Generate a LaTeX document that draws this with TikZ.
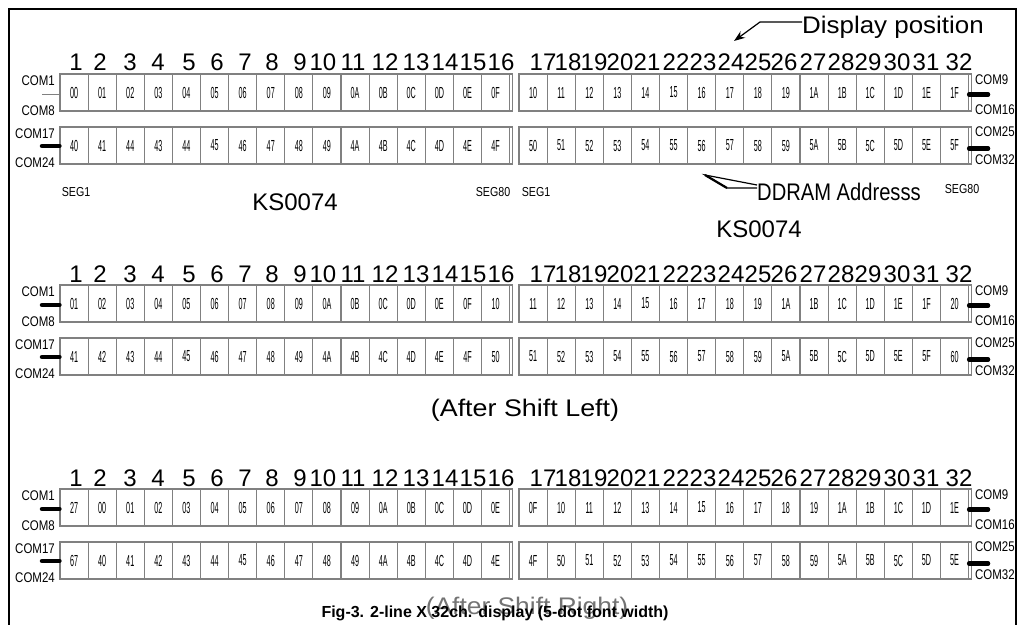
\documentclass[tikz,border=0pt]{standalone}
\usepackage{fontspec}
\setmainfont{Liberation Sans}
\usetikzlibrary{arrows.meta}
\newcommand\ctx[1]{\scalebox{0.45}[1]{\fontsize{16}{16}\selectfont #1}}
\newcommand\cm[1]{\scalebox{0.82}[1]{#1}}
\newcommand\cellrow[4]{%
  \foreach \lab [count=\i] in {#4} {\node[cellbox] (#1-\i) at ({#2+(\i-0.5)*28.1},{#3+18.5}) {\ctx{\lab}};}
  \draw[black!50, line width=1.1pt] ({#2},{#3}) -- ({#2+16*28.1+2.5},{#3}) -- ++(0,37) -- ({#2},{#3+37});
}
\newcommand\numrow[2]{%
  \foreach \n/\xx in {1/76,2/100,3/130,4/158,5/189,6/217,7/245,8/272,9/300,10/323,11/353,12/385,13/416,14/445,15/473,16/501,17/543,18/568,19/594,20/620,21/647,22/676,23/703,24/731,25/758,26/784,27/813,28/841,29/868,30/897,31/926,32/959}
    {\node[numtxt] (#1-n\n) at (\xx,#2) {\n};}
}
% id, topA, topB, leftA-style
\newcommand\comlabels[4]{%
  \node[comtxt, anchor=east] (#1-c1) at (55,#2+6.5) {\cm{COM1}};
  \node[comtxt, anchor=east] (#1-c8) at (55,#2+36.5) {\cm{COM8}};
  \node[comtxt, anchor=east] (#1-c17) at (55,#3+7) {\cm{COM17}};
  \node[comtxt, anchor=east] (#1-c24) at (55,#3+36) {\cm{COM24}};
  \node[comtxt, anchor=west] (#1-c9) at (975,#2+6) {\cm{COM9}};
  \node[comtxt, anchor=west] (#1-c16) at (975,#2+36) {\cm{COM16}};
  \node[comtxt, anchor=west] (#1-c25) at (975,#3+5) {\cm{COM25}};
  \node[comtxt, anchor=west] (#1-c32) at (975,#3+33) {\cm{COM32}};
  \coordinate (#1-la) at (42,#2+20);
  \coordinate (#1-lb) at (42,#3+19);
  \coordinate (#1-ra) at (988,#2+20.5);
  \coordinate (#1-rb) at (988,#3+21.5);
  \draw[#4] (#1-la) -- (#1-la -| #1a-1.west);
  \draw[thickconn] (#1-lb) -- (#1-lb -| #1b-1.west);
  \draw[thickconn] (#1-ra -| #1c-16.east) -- (#1-ra);
  \draw[thickconn] (#1-rb -| #1d-16.east) -- (#1-rb);
}
\begin{document}
\begin{tikzpicture}[x=1pt,y=-1pt,
  cellbox/.style={draw=black!50, line width=1.1pt, minimum width=28.1pt, minimum height=37pt, inner sep=0pt, anchor=center},
  numtxt/.style={font=\fontsize{24}{24}\selectfont, anchor=base, inner sep=0pt},
  comtxt/.style={font=\fontsize{14}{14}\selectfont, inner sep=0pt},
  bigtxt/.style={font=\fontsize{24}{24}\selectfont, inner sep=0pt},
  segtxt/.style={font=\fontsize{13}{13}\selectfont, inner sep=0pt},
  thickconn/.style={line width=4.5pt, line cap=round, black},
  thinconn/.style={line width=0.8pt, black!50}]
\useasboundingbox (0,0) rectangle (1023,624);
% frame
\draw[line width=1.6pt] (9,630) -- (9,9) -- (1016,9) -- (1016,630);

% ---------- section 1 ----------
\numrow{s1}{70}
\cellrow{s1a}{60}{74}{00,01,02,03,04,05,06,07,08,09,0A,0B,0C,0D,0E,0F}
\cellrow{s1c}{519}{74}{10,11,12,13,14,15,16,17,18,19,1A,1B,1C,1D,1E,1F}
\cellrow{s1b}{60}{127}{40,41,44,43,44,45,46,47,48,49,4A,4B,4C,4D,4E,4F}
\cellrow{s1d}{519}{127}{50,51,52,53,54,55,56,57,58,59,5A,5B,5C,5D,5E,5F}
\comlabels{s1}{74}{127}{thinconn}

\node[segtxt] (seg1l) at (76,192) {\cm{SEG1}};
\node[segtxt] (seg80l) at (493,192) {\cm{SEG80}};
\node[segtxt] (seg1r) at (536,192) {\cm{SEG1}};
\node[segtxt] (seg80r) at (962,189) {\cm{SEG80}};
\node[bigtxt] (ks1) at (295,202) {KS0074};
\node[bigtxt] (ks2) at (759,229) {KS0074};

\node[bigtxt, anchor=west] (disp) at (802,27) {\scalebox{1.08}[1]{Display position}};
\coordinate (dispbend) at (760,22);
\coordinate (disptip) at (734,41);
\draw[line width=1.2pt, -{Stealth[length=11pt,width=8pt]}] ([yshift=5pt]disp.west) -- (dispbend) -- (disptip);

\node[bigtxt, anchor=west] (ddram) at (757,192) {\scalebox{0.84}[1]{DDRAM Addresss}};
\coordinate (dtip) at (705,175);
\coordinate (dmid) at (727,188);
\coordinate (dtop) at (750,185);
\draw[line width=1.2pt, line join=miter] (ddram.west |- dtop) -- (dtip) -- (dmid) -- ([yshift=-3pt]ddram.west |- dtop);
\draw[line width=2.2pt] (dtip) -- (dmid);

% ---------- section 2 ----------
\numrow{s2}{282}
\cellrow{s2a}{60}{285}{01,02,03,04,05,06,07,08,09,0A,0B,0C,0D,0E,0F,10}
\cellrow{s2c}{519}{285}{11,12,13,14,15,16,17,18,19,1A,1B,1C,1D,1E,1F,20}
\cellrow{s2b}{60}{338}{41,42,43,44,45,46,47,48,49,4A,4B,4C,4D,4E,4F,50}
\cellrow{s2d}{519}{338}{51,52,53,54,55,56,57,58,59,5A,5B,5C,5D,5E,5F,60}
\comlabels{s2}{285}{338}{thickconn}
\node[bigtxt] (asl) at (525,410) {\scalebox{1.12}[1]{(After Shift Left)}};

% ---------- section 3 ----------
\numrow{s3}{486}
\cellrow{s3a}{60}{489}{27,00,01,02,03,04,05,06,07,08,09,0A,0B,0C,0D,0E}
\cellrow{s3c}{519}{489}{0F,10,11,12,13,14,15,16,17,18,19,1A,1B,1C,1D,1E}
\cellrow{s3b}{60}{542}{67,40,41,42,43,44,45,46,47,48,49,4A,4B,4C,4D,4E}
\cellrow{s3d}{519}{542}{4F,50,51,52,53,54,55,56,57,58,59,5A,5B,5C,5D,5E}
\comlabels{s3}{489}{542}{thickconn}
\node[bigtxt, text=black!55] (asr) at (527,608) {\scalebox{1.1}[1]{(After Shift Right)}};
\node[font=\fontsize{16}{16}\selectfont\bfseries, inner sep=0pt] (cap) at (495,613) {Fig-3. 2-line X 32ch. display (5-dot font width)};
\end{tikzpicture}
\end{document}
